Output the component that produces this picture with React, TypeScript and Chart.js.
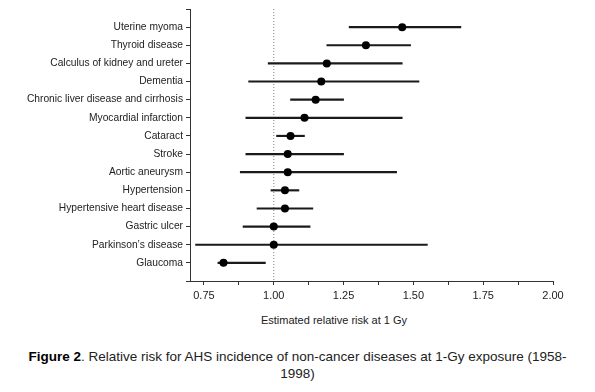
import { useEffect, useRef } from 'react';
import { Chart, registerables } from 'chart.js';

Chart.register(...registerables);

const categories = [
  'Uterine myoma',
  'Thyroid disease',
  'Calculus of kidney and ureter',
  'Dementia',
  'Chronic liver disease and cirrhosis',
  'Myocardial infarction',
  'Cataract',
  'Stroke',
  'Aortic aneurysm',
  'Hypertension',
  'Hypertensive heart disease',
  'Gastric ulcer',
  'Parkinson\u2019s disease',
  'Glaucoma',
];
const estimates = [1.46, 1.33, 1.19, 1.17, 1.15, 1.11, 1.06, 1.05, 1.05, 1.04, 1.04, 1.0, 1.0, 0.82];
const lowerCI = [1.27, 1.19, 0.98, 0.91, 1.06, 0.9, 1.01, 0.9, 0.88, 0.99, 0.94, 0.89, 0.72, 0.8];
const upperCI = [1.67, 1.49, 1.46, 1.52, 1.25, 1.46, 1.11, 1.25, 1.44, 1.09, 1.14, 1.13, 1.55, 0.97];
const xTickValues = [0.75, 0.875, 1.0, 1.125, 1.25, 1.375, 1.5, 1.625, 1.75, 1.875, 2.0];
const referenceRisk = 1.0;
const xAxisTitle = 'Estimated relative risk at 1 Gy';
const captionBold = 'Figure 2';
const captionLine1 = '. Relative risk for AHS incidence of non-cancer diseases at 1-Gy exposure (1958-';
const captionLine2 = '1998)';

const FONT = '"Liberation Sans", Arial, Helvetica, sans-serif';

export default function App() {
  const ref = useRef<HTMLCanvasElement>(null);

  useEffect(() => {
    const isMajor = (v: number) => Math.abs(v * 4 - Math.round(v * 4)) < 1e-9;
    const chart = new Chart(ref.current as HTMLCanvasElement, {
      type: 'scatter',
      data: {
        datasets: [
          {
            type: 'line',
            data: [
              { x: referenceRisk, y: -1 },
              { x: referenceRisk, y: categories.length },
            ],
            borderColor: '#808080',
            borderWidth: 1,
            borderDash: [1, 2],
            pointRadius: 0,
            order: 3,
          } as any,
          {
            type: 'bar',
            indexAxis: 'y',
            data: categories.map((_, i) => ({ y: i, x: [lowerCI[i], upperCI[i]] })),
            backgroundColor: '#1a1a1a',
            borderWidth: 0,
            barThickness: 1.5,
            order: 2,
          } as any,
          {
            type: 'scatter',
            data: estimates.map((v, i) => ({ x: v, y: i })),
            pointRadius: 4,
            pointHoverRadius: 4,
            backgroundColor: '#000',
            borderWidth: 0,
            order: 1,
          } as any,
        ],
      },
      options: {
        responsive: false,
        animation: false,
        events: [],
        layout: { padding: { top: 9, right: 42, left: 0, bottom: 0 } },
        plugins: { legend: { display: false }, tooltip: { enabled: false } },
        scales: {
          x: {
            type: 'linear',
            min: 0.7,
            max: 2.0,
            offset: false,
            afterBuildTicks: (s: any) => {
              s.ticks = xTickValues.map((v) => ({ value: v }));
            },
            afterFit: (s: any) => {
              s.height = 19;
              s.paddingLeft = 0;
              s.paddingRight = 0;
            },
            grid: { offset: false, drawOnChartArea: false, drawTicks: true, tickLength: 4, color: '#333' },
            border: { color: '#333', width: 1 },
            ticks: {
              autoSkip: false,
              maxRotation: 0,
              padding: 4,
              color: '#222',
              font: { family: FONT, size: 11 },
              callback: (v: any) => (isMajor(Number(v)) ? Number(v).toFixed(2) : ''),
            },
          },
          y: {
            type: 'linear',
            min: -1,
            max: categories.length,
            reverse: true,
            offset: false,
            afterBuildTicks: (s: any) => {
              const t = [];
              for (let i = -1; i <= categories.length; i++) t.push({ value: i });
              s.ticks = t;
            },
            afterFit: (s: any) => {
              s.width = 190;
              s.paddingTop = 0;
              s.paddingBottom = 0;
            },
            grid: { offset: false, drawOnChartArea: false, drawTicks: true, tickLength: 4, color: '#333' },
            border: { color: '#333', width: 1 },
            ticks: {
              autoSkip: false,
              padding: 3,
              color: '#222',
              font: { family: FONT, size: 10.25 },
              callback: (v: any) => categories[Number(v)] ?? '',
            },
          },
        },
      } as any,
    });
    return () => chart.destroy();
  }, []);

  return (
    <div style={{ position: 'absolute', left: 0, top: 0, width: 595, height: 392, background: '#fff', fontFamily: FONT }}>
      <canvas ref={ref} width={595} height={300} style={{ display: 'block' }} />
      <div
        style={{
          position: 'absolute',
          left: 334,
          top: 313,
          transform: 'translateX(-50%)',
          fontSize: 11,
          lineHeight: '14px',
          color: '#222',
          whiteSpace: 'nowrap',
        }}
      >
        {xAxisTitle}
      </div>
      <div
        style={{
          position: 'absolute',
          left: 0,
          width: 595,
          top: 348,
          textAlign: 'center',
          fontSize: 13.5,
          lineHeight: '17px',
          color: '#222',
          whiteSpace: 'nowrap',
        }}
      >
        <b style={{ color: '#000' }}>{captionBold}</b>
        {captionLine1}
        <br />
        {captionLine2}
      </div>
    </div>
  );
}
